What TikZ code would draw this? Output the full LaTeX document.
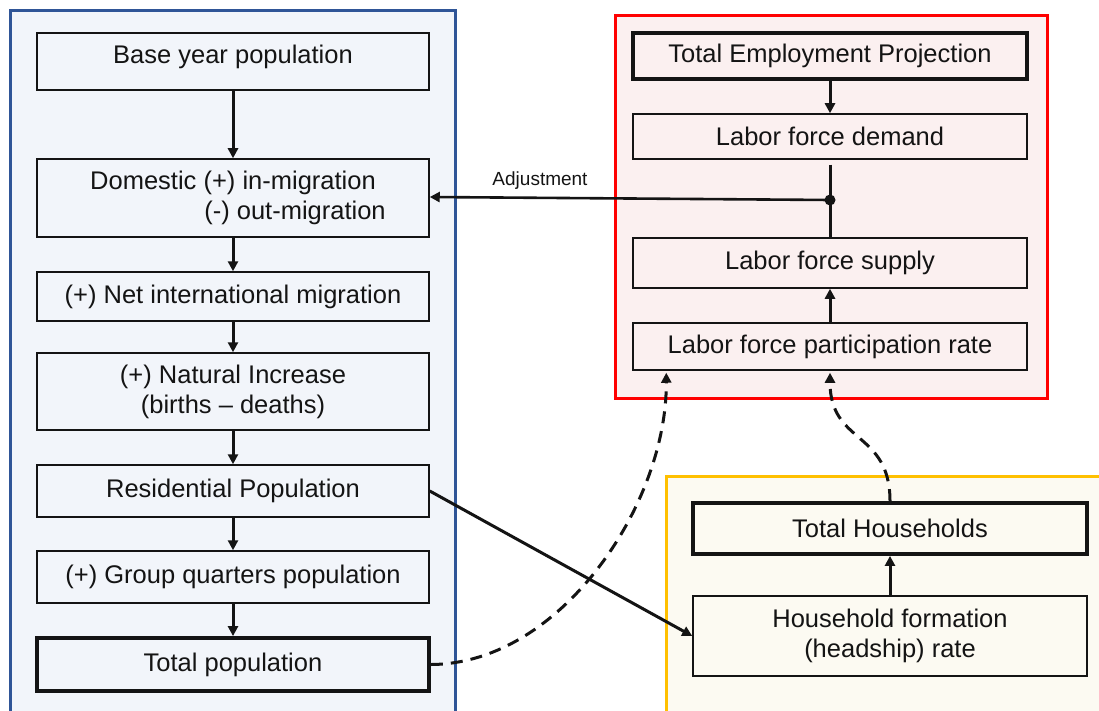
\documentclass[tikz,border=0pt]{standalone}
\usepackage{fontspec}
\setmainfont{Liberation Sans}
\usetikzlibrary{arrows.meta}
\definecolor{bluebd}{HTML}{2F5597}
\definecolor{bluefill}{HTML}{F2F5FA}
\definecolor{redbd}{HTML}{FF0000}
\definecolor{redfill}{HTML}{FBF0F0}
\definecolor{yelbd}{HTML}{FFC000}
\definecolor{yelfill}{HTML}{FCFAF2}
\definecolor{ink}{HTML}{141414}
\begin{document}
\begin{tikzpicture}[x=1pt,y=-1pt,
  stepbox/.style={draw=ink, line width=1.5pt, inner sep=0pt, align=center,
    font=\fontsize{25.5}{30}\selectfont, text=ink},
  thickbox/.style={stepbox, line width=3.8pt},
  arr/.style={draw=ink, line width=3pt, -{Triangle[length=10pt,width=10pt]}},
  dashedarr/.style={arr, dash pattern=on 12pt off 8pt},
  panel/.style={line width=3pt}]
\useasboundingbox (0,0) rectangle (1099,711);

% panels
\draw[panel, draw=bluebd, fill=bluefill] (10,11) rectangle (455,725);
\draw[panel, draw=redbd, fill=redfill] (615,16) rectangle (1047,398);
\draw[panel, draw=yelbd, fill=yelfill] (666,476) rectangle (1110,725);

% left column
\node[stepbox, fill=bluefill, minimum width=392pt, minimum height=57pt, text depth=15pt] (base) at (233,61.5) {Base year population};
\node[stepbox, fill=bluefill, minimum width=392pt, minimum height=78pt] (dom) at (233,198) {Domestic (+) in-migration\\\hspace*{124pt}(-) out-migration};
\node[stepbox, fill=bluefill, minimum width=392pt, minimum height=49pt] (net) at (233,296.5) {(+) Net international migration};
\node[stepbox, fill=bluefill, minimum width=392pt, minimum height=77pt] (nat) at (233,391.5) {(+) Natural Increase\\(births – deaths)};
\node[stepbox, fill=bluefill, minimum width=392pt, minimum height=52pt] (res) at (233,491) {Residential Population};
\node[stepbox, fill=bluefill, minimum width=392pt, minimum height=52pt] (gq) at (233,577) {(+) Group quarters population};
\node[thickbox, fill=bluefill, minimum width=392pt, minimum height=53pt] (tot) at (233,664.5) {Total population};

% red column
\node[thickbox, fill=redfill, minimum width=394pt, minimum height=46pt] (tep) at (830,56) {Total Employment Projection};
\node[stepbox, fill=redfill, minimum width=394pt, minimum height=45pt] (dem) at (830,136.5) {Labor force demand};
\node[stepbox, fill=redfill, minimum width=394pt, minimum height=50pt] (sup) at (830,263) {Labor force supply};
\node[stepbox, fill=redfill, minimum width=394pt, minimum height=47pt] (part) at (830,346.5) {Labor force participation rate};

% yellow column
\node[thickbox, fill=yelfill, minimum width=394pt, minimum height=51pt] (th) at (890,528.5) {Total Households};
\node[stepbox, fill=yelfill, minimum width=394pt, minimum height=80pt] (hf) at (890,636) {Household formation\\(headship) rate};

% left arrows
\draw[arr] (base) -- (dom);
\draw[arr] (dom) -- (net);
\draw[arr] (net) -- (nat);
\draw[arr] (nat) -- (res);
\draw[arr] (res) -- (gq);
\draw[arr] (gq) -- (tot);

% red arrows
\draw[arr] (tep) -- (dem);
\draw[arr] (part) -- (sup);
\coordinate (adj) at (830,200);
\draw[draw=ink, line width=3pt] ([yshift=-5pt]dem.south) -- (sup.north);
\fill[ink] (adj) circle (5.5pt);
\draw[arr, line width=2.6pt] (adj) -- ([yshift=1pt]dom.east);
\node[font=\fontsize{19}{22}\selectfont, text=ink] (adjlabel) at (540,181) {Adjustment};

% yellow arrow
\draw[arr] (hf) -- (th);

% cross connections
\draw[arr] (res.east) -- (hf.west);
\draw[dashedarr, shorten >=2pt] (tot.east) .. controls (560,664) and (667,505) .. ([xshift=34pt]part.south west);
\draw[dashedarr, shorten >=2pt] (th.north) .. controls (890,430) and (830,445) .. (part.south);
\end{tikzpicture}
\end{document}
